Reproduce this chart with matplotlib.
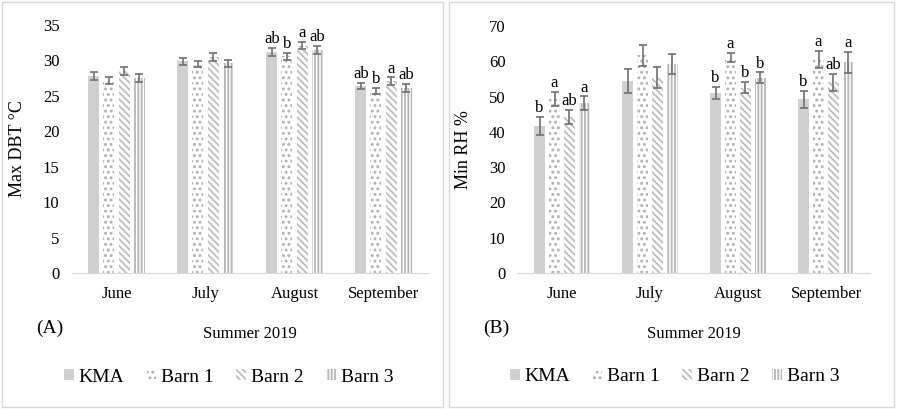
import numpy as np
import matplotlib.pyplot as plt
from matplotlib.patches import Rectangle

plt.rcParams['font.family'] = ['Liberation Serif', 'DejaVu Serif']
plt.rcParams['hatch.linewidth'] = 1.3

months = ['June', 'July', 'August', 'September']
series = ['KMA', 'Barn 1', 'Barn 2', 'Barn 3']

# (A) Max DBT
dbt_kma = [27.8, 29.9, 31.2, 26.4]
dbt_b1 = [27.2, 29.5, 30.6, 25.7]
dbt_b2 = [28.5, 30.5, 32.1, 27.1]
dbt_b3 = [27.5, 29.6, 31.5, 26.1]
dbt_err_kma = [0.55, 0.5, 0.6, 0.42]
dbt_err_b1 = [0.47, 0.47, 0.5, 0.47]
dbt_err_b2 = [0.56, 0.52, 0.54, 0.5]
dbt_err_b3 = [0.56, 0.47, 0.54, 0.56]
dbt_let_kma = ['', '', 'ab', 'ab']
dbt_let_b1 = ['', '', 'b', 'b']
dbt_let_b2 = ['', '', 'a', 'a']
dbt_let_b3 = ['', '', 'ab', 'ab']

# (B) Min RH
rh_kma = [41.7, 54.4, 51.0, 49.2]
rh_b1 = [49.3, 61.7, 61.0, 60.6]
rh_b2 = [44.2, 55.4, 52.5, 54.0]
rh_b3 = [48.2, 59.2, 55.4, 59.7]
rh_err_kma = [2.5, 3.3, 1.8, 2.5]
rh_err_b1 = [2.0, 2.9, 1.3, 2.4]
rh_err_b2 = [2.0, 3.0, 1.6, 2.5]
rh_err_b3 = [1.9, 2.9, 1.5, 2.9]
rh_let_kma = ['b', '', 'b', 'b']
rh_let_b1 = ['a', '', 'a', 'a']
rh_let_b2 = ['ab', '', 'b', 'ab']
rh_let_b3 = ['a', '', 'b', 'a']

styles = [
    dict(color='#d0d0d0', hatch=None),
    dict(color='white', edgecolor='#b0b0b0', hatch='...'),
    dict(color='white', edgecolor='#bdbdbd', hatch='\\\\\\\\\\'),
    dict(color='white', edgecolor='#b5b5b5', hatch='|||||'),
]

fig = plt.figure(figsize=(8.97, 4.09), dpi=100)
# panel frames
fig.patches.append(Rectangle((2 / 897, 2 / 409), 441 / 897, 405 / 409, transform=fig.transFigure,
                             fill=False, edgecolor='#d9d9d9', lw=1))
fig.patches.append(Rectangle((449 / 897, 2 / 409), 445 / 897, 405 / 409, transform=fig.transFigure,
                             fill=False, edgecolor='#d9d9d9', lw=1))


def panel(ax, vals, errs, lets, ymax, step, ylabel, tag, lab_off, leg_x):
    x = np.arange(len(months))
    w = 0.125
    gap = 0.17
    for i in range(4):
        pos = x + (i - 1.5) * gap
        st = styles[i]
        ax.bar(pos, vals[i], w, color=st['color'], edgecolor=st.get('edgecolor', st['color']),
               hatch=st['hatch'], linewidth=0, label=series[i], zorder=2)
        ax.errorbar(pos, vals[i], yerr=errs[i], fmt='none', ecolor='#707070',
                    elinewidth=1.2, capsize=3, capthick=1.2, zorder=3)
        for px, v, e, t in zip(pos, vals[i], errs[i], lets[i]):
            if t:
                ax.text(px, v + e + lab_off, t, ha='center', va='bottom', fontsize=12)
    ax.set_xlim(-0.5, 3.5)
    ax.set_ylim(0, ymax)
    ax.set_yticks(np.arange(0, ymax + 1, step))
    ax.set_xticks(x)
    ax.set_xticklabels(months)
    ax.tick_params(length=0, labelsize=12, pad=9)
    for s in ['top', 'right', 'left']:
        ax.spines[s].set_visible(False)
    ax.spines['bottom'].set_color('#d9d9d9')
    ax.set_ylabel(ylabel, fontsize=13)
    ax.set_xlabel('Summer 2019', fontsize=12, labelpad=18)
    ax.text(-0.1, -0.225, tag, transform=ax.transAxes, fontsize=14, va='center')
    ax.legend(loc='center', bbox_to_anchor=(leg_x, -0.42), ncol=4, frameon=False, fontsize=14,
              handlelength=0.5, handleheight=0.5, handletextpad=0.25, columnspacing=1.15)


ax1 = fig.add_axes([72 / 897, 1 - 273 / 409, 356 / 897, 248 / 409])
panel(ax1, [dbt_kma, dbt_b1, dbt_b2, dbt_b3], [dbt_err_kma, dbt_err_b1, dbt_err_b2, dbt_err_b3],
      [dbt_let_kma, dbt_let_b1, dbt_let_b2, dbt_let_b3], 35, 5, 'Max DBT °C', '(A)', 0.1, 0.44)
ax1.yaxis.set_label_coords(-0.13, 0.5)

ax2 = fig.add_axes([518 / 897, 1 - 273 / 409, 352 / 897, 247 / 409])
panel(ax2, [rh_kma, rh_b1, rh_b2, rh_b3], [rh_err_kma, rh_err_b1, rh_err_b2, rh_err_b3],
      [rh_let_kma, rh_let_b1, rh_let_b2, rh_let_b3], 70, 10, 'Min RH %', '(B)', 0.2, 0.445)
ax2.yaxis.set_label_coords(-0.13, 0.5)

fig.savefig('out.png', dpi=100)
